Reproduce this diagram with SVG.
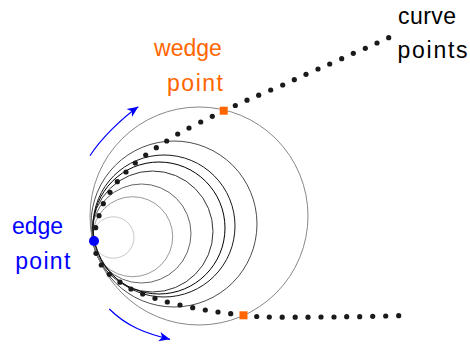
<svg xmlns="http://www.w3.org/2000/svg" width="470" height="347" viewBox="0 0 470 347">
<style>
.c{fill:none;stroke-width:1}
.d{fill:#1a1a1a}
.w{fill:#ff6600}
.t{font-family:"Liberation Sans",Arial,sans-serif;font-size:23px}
.arr{fill:none;stroke:#0000ff;stroke-width:1.2;marker-end:url(#ah)}
</style>
<defs>
<marker id="ah" markerWidth="14" markerHeight="12" viewBox="-12 -6 14 12" refX="0" refY="0" orient="auto" markerUnits="userSpaceOnUse">
<path d="M0,0 L-11,-4.8 L-8,0 L-11,4.8 Z" fill="#0000ff"/>
</marker>
</defs>
<rect width="470" height="347" fill="#fff"/>
<g id="circles">
<circle class="c" cx="113.3" cy="237.5" r="20.7" stroke="#c8c8c8"/>
<circle class="c" cx="132.7" cy="236.7" r="40" stroke="#999"/>
<circle class="c" cx="141.5" cy="233.5" r="49.5" stroke="#666"/>
<circle class="c" cx="152.5" cy="231.5" r="60.5" stroke="#333"/>
<circle class="c" cx="159" cy="228" r="66" stroke="#000"/>
<circle class="c" cx="164" cy="226" r="71" stroke="#1a1a1a"/>
<circle class="c" cx="174" cy="224" r="83" stroke="#4d4d4d"/>
<circle class="c" cx="199" cy="216" r="109" stroke="#888"/>
</g>
<g id="connectors">
<path class="arr" d="M90,155.7 C100.8,138.9 121.9,118.1 138.3,106.7"/>
<path class="arr" d="M109.3,309 C126.8,326.5 145.8,333.3 170,339.3"/>
</g>
<g id="curve-points">
<circle class="d" cx="95.7" cy="227.7" r="2.6"/>
<circle class="d" cx="99" cy="215.7" r="2.6"/>
<circle class="d" cx="103.3" cy="203.7" r="2.6"/>
<circle class="d" cx="110" cy="192.3" r="2.6"/>
<circle class="d" cx="117.3" cy="181.7" r="2.6"/>
<circle class="d" cx="126" cy="172" r="2.6"/>
<circle class="d" cx="135.3" cy="163" r="2.6"/>
<circle class="d" cx="145.7" cy="155" r="2.6"/>
<circle class="d" cx="156.3" cy="147.7" r="2.6"/>
<circle class="d" cx="166.7" cy="141" r="2.6"/>
<circle class="d" cx="177.7" cy="134" r="2.6"/>
<circle class="d" cx="189" cy="128" r="2.6"/>
<circle class="d" cx="200.7" cy="122" r="2.6"/>
<circle class="d" cx="212.3" cy="116.3" r="2.6"/>
<circle class="d" cx="235.3" cy="105.5" r="2.6"/>
<circle class="d" cx="247" cy="100.2" r="2.6"/>
<circle class="d" cx="258.7" cy="95.2" r="2.6"/>
<circle class="d" cx="270.7" cy="90" r="2.6"/>
<circle class="d" cx="282.7" cy="85" r="2.6"/>
<circle class="d" cx="294.3" cy="79.7" r="2.6"/>
<circle class="d" cx="306" cy="74.3" r="2.6"/>
<circle class="d" cx="318" cy="69" r="2.6"/>
<circle class="d" cx="329.7" cy="64" r="2.6"/>
<circle class="d" cx="341.7" cy="58.7" r="2.6"/>
<circle class="d" cx="353.3" cy="53.3" r="2.6"/>
<circle class="d" cx="365.3" cy="48.3" r="2.6"/>
<circle class="d" cx="377" cy="43" r="2.6"/>
<circle class="d" cx="388.7" cy="37.7" r="2.6"/>
<circle class="d" cx="96" cy="253.3" r="2.6"/>
<circle class="d" cx="101.3" cy="265" r="2.6"/>
<circle class="d" cx="109.3" cy="274.3" r="2.6"/>
<circle class="d" cx="120" cy="282.2" r="2.6"/>
<circle class="d" cx="131" cy="289" r="2.6"/>
<circle class="d" cx="142.7" cy="294" r="2.6"/>
<circle class="d" cx="155" cy="298.3" r="2.6"/>
<circle class="d" cx="167.3" cy="302" r="2.6"/>
<circle class="d" cx="180" cy="305" r="2.6"/>
<circle class="d" cx="192.7" cy="307.7" r="2.6"/>
<circle class="d" cx="205.3" cy="310" r="2.6"/>
<circle class="d" cx="218" cy="312" r="2.6"/>
<circle class="d" cx="230.7" cy="313.7" r="2.6"/>
<circle class="d" cx="256.7" cy="316.5" r="2.6"/>
<circle class="d" cx="269.3" cy="317" r="2.6"/>
<circle class="d" cx="282.2" cy="317.2" r="2.6"/>
<circle class="d" cx="295.2" cy="317.2" r="2.6"/>
<circle class="d" cx="308" cy="317.2" r="2.6"/>
<circle class="d" cx="321" cy="317" r="2.6"/>
<circle class="d" cx="334" cy="317" r="2.6"/>
<circle class="d" cx="346.7" cy="316.7" r="2.6"/>
<circle class="d" cx="359.7" cy="316.7" r="2.6"/>
<circle class="d" cx="372.7" cy="316.3" r="2.6"/>
<circle class="d" cx="385.7" cy="316" r="2.6"/>
<circle class="d" cx="398.7" cy="315.7" r="2.6"/>
</g>
<g id="wedge-points">
<rect class="w" x="219.7" y="106.7" width="8" height="8"/>
<rect class="w" x="239.5" y="311.3" width="8" height="8"/>
</g>
<g id="edge-point">
<circle cx="94" cy="241" r="5" fill="#0000ff"/>
</g>
<g id="label-wedge" class="t" fill="#ff6600" text-anchor="middle">
<text x="188" y="56">wedge</text>
<text x="195" y="91" textLength="56" lengthAdjust="spacing">point</text>
</g>
<g id="label-curve" class="t" fill="#000">
<text x="398" y="24" textLength="58" lengthAdjust="spacing">curve</text>
<text x="397.5" y="57.5" textLength="70" lengthAdjust="spacing">points</text>
</g>
<g id="label-edge" class="t" fill="#0000ff" text-anchor="middle">
<text x="37.5" y="234">edge</text>
<text x="42.8" y="268.5" textLength="55" lengthAdjust="spacing">point</text>
</g>
</svg>
